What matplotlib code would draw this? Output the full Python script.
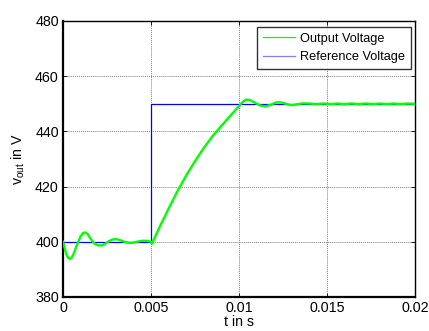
import matplotlib
matplotlib.use("Agg")
import matplotlib.pyplot as plt

plt.rcParams['font.family'] = ['Liberation Sans', 'DejaVu Sans']

# Reference voltage (step)
t_ref = [0.0, 0.005, 0.005, 0.02]
v_ref = [400, 400, 450, 450]

# Output voltage
t_out = [0.0, 0.0001, 0.0002, 0.0003, 0.0004, 0.0005, 0.0006, 0.0008, 0.001, 0.00115, 0.00125,
         0.0014, 0.0016, 0.0018, 0.002, 0.0022, 0.0024, 0.0026, 0.0028, 0.003, 0.0032,
         0.0034, 0.0036, 0.0038, 0.004, 0.0042, 0.0044, 0.0046, 0.0048, 0.005, 0.00505,
         0.0055, 0.006, 0.0065, 0.007, 0.0075, 0.008, 0.0085, 0.009, 0.0095, 0.01,
         0.0102, 0.0104, 0.0106, 0.0109, 0.0112, 0.0115, 0.0118,
         0.0121, 0.0124, 0.0127, 0.013, 0.0133, 0.0136, 0.014, 0.0144, 0.0148, 0.0152,
         0.0156, 0.016, 0.0164, 0.0168, 0.0172, 0.0176, 0.018, 0.0184, 0.0188, 0.0192,
         0.0196, 0.02]
v_out = [400.0, 397.5, 395.3, 394.2, 393.8, 394.3, 395.6, 399.0, 402.0, 403.2, 403.4,
         402.8, 400.8, 399.3, 398.7, 398.7, 399.3, 400.2, 400.8, 401.0, 400.7,
         400.2, 399.8, 399.6, 399.7, 400.0, 400.3, 400.4, 400.3, 400.0, 399.3,
         405.5, 412.0, 418.3, 424.0, 429.2, 434.0, 438.3, 442.0, 445.6, 449.2,
         450.6, 451.5, 451.4, 450.4, 449.4, 449.1, 449.6,
         450.5, 450.5, 449.9, 449.5, 449.8, 450.15, 450.1, 449.9, 450.1, 449.9,
         450.1, 449.9, 450.1, 449.9, 450.1, 449.9, 450.1, 449.9, 450.1, 449.9,
         450.1, 450.0]

xticks = [0, 0.005, 0.01, 0.015, 0.02]
xticklabels = ['0', '0.005', '0.01', '0.015', '0.02']
yticks = [380, 400, 420, 440, 460, 480]

fig = plt.figure(figsize=(4.29, 3.31), dpi=100)
ax = fig.add_axes([63/429, 1 - 297/331, (415 - 63)/429, (297 - 21)/331])

ax.plot(t_out, v_out, color='#00ff00', lw=1.7, label='Output Voltage', zorder=3)
ax.plot(t_ref, v_ref, color='#0000ff', lw=0.9, label='Reference Voltage', zorder=2)

ax.set_xlim(0, 0.02)
ax.set_ylim(380, 480)
ax.set_xticks(xticks)
ax.set_xticklabels(xticklabels)
ax.set_yticks(yticks)
ax.tick_params(direction='in', top=True, right=True, labelsize=10.3, length=3, width=0.6, pad=3)
ax.grid(True, color='#808080', linestyle=(0, (1, 1)), lw=0.7)
for s in ax.spines.values():
    s.set_linewidth(1.0)
    s.set_color('black')
ax.spines['left'].set_linewidth(1.6)
ax.spines['bottom'].set_linewidth(1.6)

ax.set_xlabel('t in s', fontsize=10.2, labelpad=0)
ax.set_ylabel(r'v$_{\mathregular{out}}$ in V', fontsize=10.2, labelpad=6)

leg = ax.legend(loc='upper right', bbox_to_anchor=(0.9886, 0.978), borderaxespad=0,
                fontsize=9.2, frameon=True, fancybox=False,
                handlelength=2.5, handletextpad=0.4,
                borderpad=0.45, labelspacing=0.5)
leg.get_frame().set_edgecolor('black')
leg.get_frame().set_linewidth(1.0)
leg.get_lines()[0].set_linewidth(0.9)
leg.get_lines()[1].set_color('#8080ff')

fig.savefig('out.png', dpi=100)
